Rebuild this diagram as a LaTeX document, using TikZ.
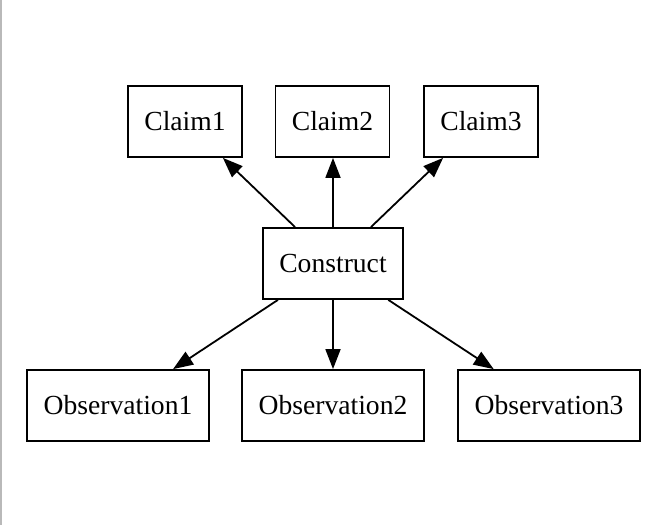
\documentclass[tikz,border=0pt]{standalone}
\usepackage{fontspec}
\setmainfont{Liberation Serif}
\usetikzlibrary{arrows.meta}
\begin{document}
\begin{tikzpicture}[x=1pt,y=-1pt,
  box/.style={draw,line width=1.8pt,inner sep=0pt,minimum height=71pt,font=\fontsize{27.6}{33}\selectfont},
  claimbox/.style={box,minimum width=114pt},
  conbox/.style={box,minimum width=140pt},
  obsbox/.style={box,minimum width=182pt},
  edge/.style={line width=1.8pt,-{Triangle[length=20pt,width=15pt]},shorten >=0pt}]
\useasboundingbox[fill=white] (0,0) rectangle (662,525);
\draw[gray!55,line width=1.5pt] (1,0) -- (1,525);
\node[claimbox] (c1) at (185,121.5) {Claim1};
\node[claimbox] (c2) at (332.5,121.5) {Claim2};
\node[claimbox] (c3) at (481,121.5) {Claim3};
\node[conbox] (con) at (333,263.5) {Construct};
\node[obsbox] (o1) at (118,405.5) {Observation1};
\node[obsbox] (o2) at (333,405.5) {Observation2};
\node[obsbox] (o3) at (549,405.5) {Observation3};
\draw[edge] (con) -- (c1);
\draw[edge] (con.north) -- (c2.south -| con.north);
\draw[edge] (con) -- (c3);
\draw[edge] (con) -- (o1);
\draw[edge] (con) -- (o2);
\draw[edge] (con) -- (o3);
\end{tikzpicture}
\end{document}
